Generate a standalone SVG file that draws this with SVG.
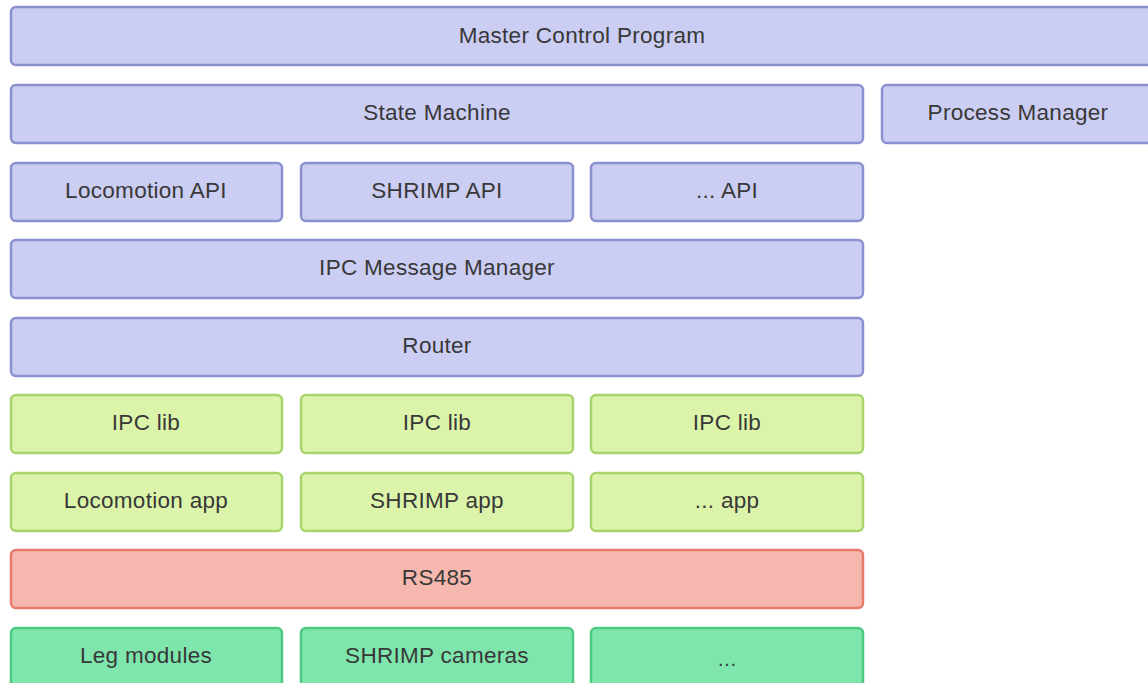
<svg xmlns="http://www.w3.org/2000/svg" width="1148" height="683" viewBox="0 0 1148 683">
  <style>
    rect { stroke-width: 2.5; }
    .blue rect { fill: #cbcdf2; stroke: #8b90cf; }
    .lime rect { fill: #dbf4a9; stroke: #a9d46c; }
    .red rect { fill: #f6b7ae; stroke: #e87a6d; }
    .green rect { fill: #7ee6ad; stroke: #4dc982; }
    text { font-family: "Liberation Sans", Arial, sans-serif; font-size: 22.5px; letter-spacing: 0.3px; fill: #383838; text-anchor: middle; dominant-baseline: central; }
  </style>
  <rect width="1148" height="683" fill="#ffffff"/>

  <g id="master-control-program" class="blue"><rect x="11" y="7" width="1143" height="58" rx="5"/><text x="582" y="35">Master Control Program</text></g>
  <g id="state-machine" class="blue"><rect x="11" y="85" width="852" height="58" rx="5"/><text x="437" y="112">State Machine</text></g>
  <g id="process-manager" class="blue"><rect x="882" y="85" width="272" height="58" rx="5"/><text x="1018" y="112">Process Manager</text></g>

  <g id="locomotion-api" class="blue"><rect x="11" y="163" width="271" height="58" rx="5"/><text x="146" y="190">Locomotion API</text></g>
  <g id="shrimp-api" class="blue"><rect x="301" y="163" width="272" height="58" rx="5"/><text x="437" y="190">SHRIMP API</text></g>
  <g id="other-api" class="blue"><rect x="591" y="163" width="272" height="58" rx="5"/><text x="727" y="190">... API</text></g>

  <g id="ipc-message-manager" class="blue"><rect x="11" y="240" width="852" height="58" rx="5"/><text x="437" y="267">IPC Message Manager</text></g>
  <g id="router" class="blue"><rect x="11" y="318" width="852" height="58" rx="5"/><text x="437" y="345">Router</text></g>

  <g id="ipc-lib-1" class="lime"><rect x="11" y="395" width="271" height="58" rx="5"/><text x="146" y="422">IPC lib</text></g>
  <g id="ipc-lib-2" class="lime"><rect x="301" y="395" width="272" height="58" rx="5"/><text x="437" y="422">IPC lib</text></g>
  <g id="ipc-lib-3" class="lime"><rect x="591" y="395" width="272" height="58" rx="5"/><text x="727" y="422">IPC lib</text></g>

  <g id="locomotion-app" class="lime"><rect x="11" y="473" width="271" height="58" rx="5"/><text x="146" y="500">Locomotion app</text></g>
  <g id="shrimp-app" class="lime"><rect x="301" y="473" width="272" height="58" rx="5"/><text x="437" y="500">SHRIMP app</text></g>
  <g id="other-app" class="lime"><rect x="591" y="473" width="272" height="58" rx="5"/><text x="727" y="500">... app</text></g>

  <g id="rs485" class="red"><rect x="11" y="550" width="852" height="58" rx="5"/><text x="437" y="577">RS485</text></g>

  <g id="leg-modules" class="green"><rect x="11" y="628" width="271" height="62" rx="5"/><text x="146" y="655">Leg modules</text></g>
  <g id="shrimp-cameras" class="green"><rect x="301" y="628" width="272" height="62" rx="5"/><text x="437" y="655">SHRIMP cameras</text></g>
  <g id="other-device" class="green"><rect x="591" y="628" width="272" height="62" rx="5"/><text x="727" y="659" style="font-size:20px;letter-spacing:0">…</text></g>

  <g id="connectors"></g>
</svg>
